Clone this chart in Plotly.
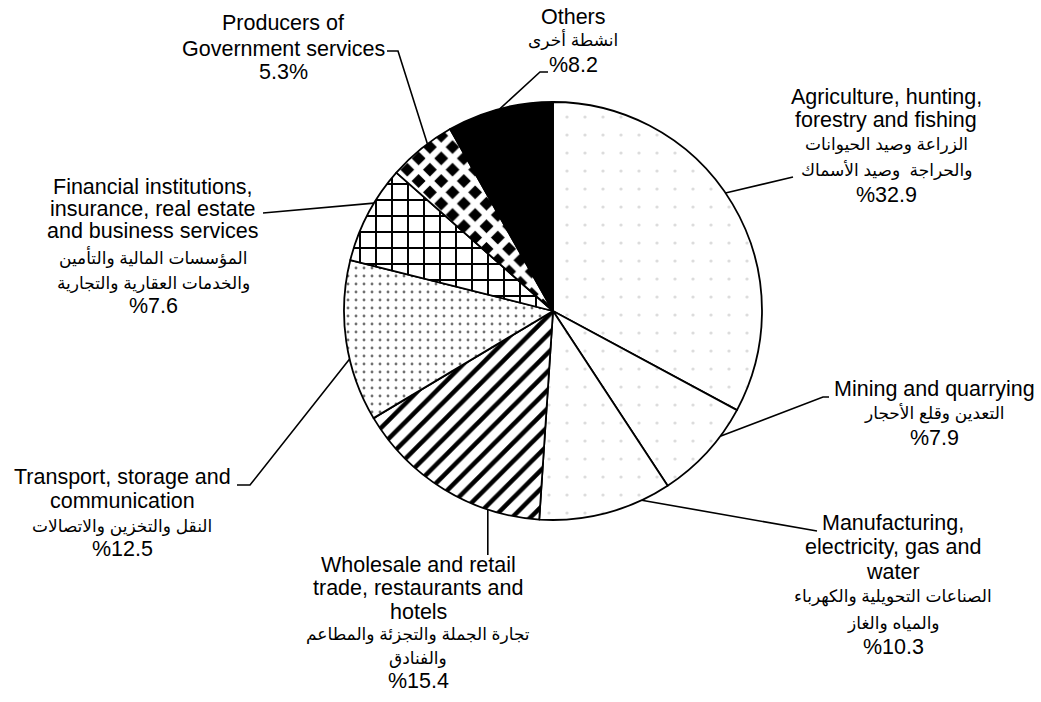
"""Sector shares of GDP - patterned pie with bilingual leader labels."""

import math

import plotly.graph_objects as go

W, H = 1041, 702

# ── Data ─────────────────────────────────────────────────────────────────────
sectors_en = [
    ["Agriculture, hunting,", "forestry and fishing"],
    ["Mining and quarrying"],
    ["Manufacturing,", "electricity, gas and", "water"],
    ["Wholesale and retail", "trade, restaurants and", "hotels"],
    ["Transport, storage and", "communication"],
    ["Financial institutions,", "insurance, real estate", "and business services"],
    ["Producers of", "Government services"],
    ["Others"],
]
sectors_ar = [
    ["الزراعة وصيد الحيوانات", "والحراجة  وصيد الأسماك"],
    ["التعدين وقلع الأحجار"],
    ["الصناعات التحويلية والكهرباء", "والمياه والغاز"],
    ["تجارة الجملة والتجزئة والمطاعم", "والفنادق"],
    ["النقل والتخزين والاتصالات"],
    ["المؤسسات المالية والتأمين", "والخدمات العقارية والتجارية"],
    [],
    ["انشطة أخرى"],
]
shares = [32.9, 7.9, 10.3, 15.4, 12.5, 7.6, 5.3, 8.2]
share_labels = ["%32.9", "%7.9", "%10.3", "%15.4", "%12.5", "%7.6", "5.3%", "%8.2"]

# ── Styling ──────────────────────────────────────────────────────────────────
PIE_CX, PIE_CY, PIE_R = 553, 311, 209          # pixels
FONT = "Liberation Sans, Arial, DejaVu Sans, sans-serif"
EN_SIZE, AR_SIZE = 21.5, 17

slice_bg = ["white", "white", "white", "white", "white", "white", "black", "black"]
pat_shape = [".", ".", ".", "/", ".", "+", "x", ""]
pat_fg = ["#dcdcdc", "#dcdcdc", "#dcdcdc", "black", "#707070", "black", "white", "black"]
pat_size = [18, 18, 18, 13, 8, 16, 16, 10]
pat_solid = [0.025, 0.025, 0.025, 0.35, 0.1, 0.23, 0.62, 0.3]

# label block: centre x, y of each line (px)
label_x = [886, 934, 893, 418, 122, 153, 283, 573]
label_ys = [
    [97, 120, 145, 170, 195],
    [389, 413, 438],
    [523, 547, 572, 597, 623, 647],
    [565, 588, 612, 635, 658, 681],
    [477, 501, 526, 549],
    [187, 209, 231, 257, 283, 306],
    [23, 49, 72],
    [17, 39, 65],
]
# where along each slice the leader touches the rim (0..1), then its path (px)
anchor_frac = [0.47, 0.3, 0.22, 0.26, 0.39, 0.62, 0.61, 0.5]
leader_pts = [
    [(793, 177)],
    [(823, 397), (829, 397)],
    [(817, 531)],
    [(None, 555)],
    [(250, 485), (237, 485)],
    [(263, 213)],
    [(398, 51), (387, 51)],
    [(540, 72), (548, 72)],
]


def px(x):
    return x / W


def py(y):
    return 1 - y / H


fig = go.Figure(go.Pie(
    values=shares,
    labels=[" ".join(s) for s in sectors_en],
    sort=False,
    direction="clockwise",
    rotation=0,
    textinfo="none",
    hoverinfo="label+value",
    showlegend=False,
    domain={"x": [px(PIE_CX - PIE_R), px(PIE_CX + PIE_R)],
            "y": [py(PIE_CY + PIE_R), py(PIE_CY - PIE_R)]},
    marker={
        "colors": slice_bg,
        "line": {"color": "black", "width": 1.8},
        "pattern": {
            "shape": pat_shape,
            "fgcolor": pat_fg,
            "fgopacity": 1,
            "size": pat_size,
            "solidity": pat_solid,
            "fillmode": "overlay",
        },
    },
))

# ── Leader lines + labels ────────────────────────────────────────────────────
total = sum(shares)
cum = 0.0
for i, val in enumerate(shares):
    ang = (cum + val * anchor_frac[i]) / total * 2 * math.pi
    cum += val
    ex = PIE_CX + PIE_R * math.sin(ang)
    ey = PIE_CY - PIE_R * math.cos(ang)
    path = f"M{px(ex)},{py(ey)}"
    for x, y in leader_pts[i]:
        x = ex if x is None else x
        path += f" L{px(x)},{py(y)}"
    fig.add_shape(type="path", path=path, xref="paper", yref="paper",
                  line={"color": "black", "width": 1.6})

    lines = [(t, EN_SIZE) for t in sectors_en[i]]
    lines += [(t, AR_SIZE) for t in sectors_ar[i]]
    lines.append((share_labels[i], EN_SIZE))
    for (text, size), y in zip(lines, label_ys[i]):
        fig.add_annotation(
            x=px(label_x[i]), y=py(y), xref="paper", yref="paper",
            xanchor="center", yanchor="middle",
            text=text, showarrow=False,
            font={"family": FONT, "size": size, "color": "black"},
        )

fig.update_layout(
    width=W, height=H,
    margin={"l": 0, "r": 0, "t": 0, "b": 0},
    paper_bgcolor="white",
    plot_bgcolor="white",
)

fig.write_html(
    "out.html",
    config={"displayModeBar": False},
    post_script="document.body.style.margin='0';",
)
